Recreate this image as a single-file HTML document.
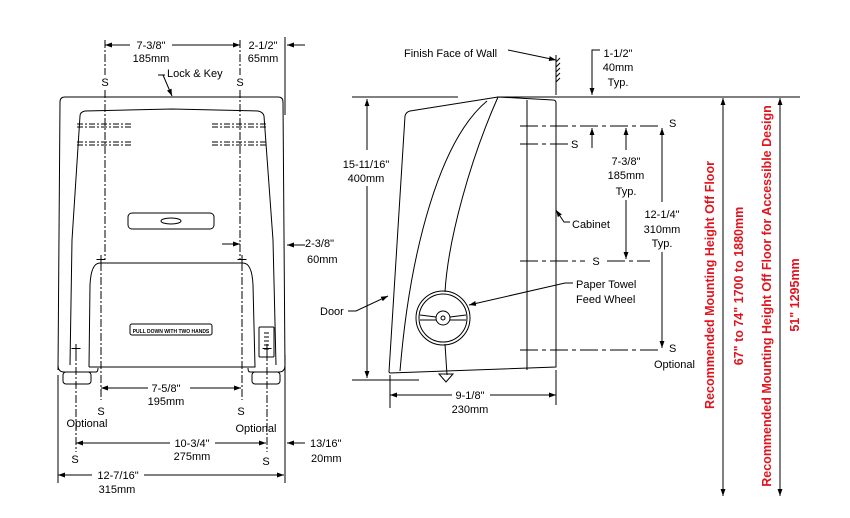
<!DOCTYPE html>
<html><head><meta charset="utf-8"><style>
html,body{margin:0;padding:0;background:#fff;}
svg{display:block;}
text{font-family:"Liberation Sans",Arial,sans-serif;font-size:11px;fill:#000;}
.r{fill:#e0141e;font-weight:bold;font-size:12.5px;}
.m{text-anchor:middle;}
</style></head><body>
<svg width="850" height="518" viewBox="0 0 850 518" xmlns="http://www.w3.org/2000/svg">
<defs>
<marker id="a" viewBox="0 0 10 10" refX="10" refY="5" markerWidth="7" markerHeight="7" orient="auto-start-reverse"><path d="M0,1.5 L10,5 L0,8.5z" fill="#000"/></marker>
</defs>
<g stroke="#000" fill="none" stroke-width="1">
<line x1="105" y1="40" x2="105" y2="75" stroke-dasharray="8,2,2,2"/>
<line x1="240" y1="40" x2="240" y2="75" stroke-dasharray="8,2,2,2"/>
<line x1="105" y1="45" x2="130" y2="45" marker-start="url(#a)"/>
<line x1="172" y1="45" x2="240" y2="45" marker-end="url(#a)"/>
<line x1="285" y1="37" x2="285" y2="115"/>
<line x1="305" y1="45" x2="287" y2="45" marker-end="url(#a)"/>
<line x1="105" y1="90" x2="105" y2="260" stroke-dasharray="8,2,2,2"/>
<line x1="240" y1="90" x2="240" y2="260" stroke-dasharray="8,2,2,2"/>
<path d="M165,75 L158,75 M163,75 L172,96" marker-end="url(#a)"/>
<path d="M58,370 L60,102 Q60,97 65,97 L278,97 Q283,97 283,102 L285,370"/>
<path d="M70,365 L72,240 L80,116 Q80,112 85,111 L172,109 L258,111 Q263,112 264,116 L273,240 L276,365"/>
<g stroke-dasharray="6,2,2,2">
<line x1="77" y1="124" x2="132" y2="124"/><line x1="77" y1="127" x2="132" y2="127"/>
<line x1="77" y1="142" x2="132" y2="142"/><line x1="77" y1="145" x2="132" y2="145"/>
<line x1="212" y1="124" x2="266" y2="124"/><line x1="212" y1="127" x2="266" y2="127"/>
<line x1="212" y1="142" x2="266" y2="142"/><line x1="212" y1="145" x2="266" y2="145"/>
</g>
<rect x="128" y="213" width="86" height="16" rx="4"/>
<ellipse cx="171" cy="221" rx="10" ry="3"/>
<path d="M89,367 L90,285 Q91,263 100,263 L243,263 Q252,263 253,285 L255,367 L89,367"/>
<path d="M101,255 v9 M96.5,259.5 h9 M242,255 v9 M237.5,259.5 h9"/>
<line x1="101" y1="263" x2="101" y2="400" stroke-dasharray="8,2,2,2"/>
<line x1="242" y1="263" x2="242" y2="400" stroke-dasharray="8,2,2,2"/>
<rect x="130" y="324" width="82" height="11" rx="2"/>
<rect x="259" y="327" width="15" height="30" rx="1"/>
<path d="M264,333h5M264,337h5M264,341h5M264,345h5M264,349h5"/>
<path d="M76,344 v9 M71.5,348.5 h9 M267,344 v9 M262.5,348.5 h9"/>
<line x1="76" y1="353" x2="76" y2="452" stroke-dasharray="8,2,2,2"/>
<line x1="267" y1="353" x2="267" y2="452" stroke-dasharray="8,2,2,2"/>
<path d="M58,365 Q58,372 64,372 L96,372 Q98,372 98,368"/>
<rect x="63" y="372" width="28" height="12" rx="3"/>
<path d="M285,365 Q285,372 279,372 L250,372 Q248,372 248,368"/>
<rect x="252" y="372" width="28" height="12" rx="3"/>
<line x1="222" y1="244" x2="240" y2="244" marker-end="url(#a)"/>
<line x1="305" y1="245" x2="287" y2="245" marker-end="url(#a)"/>
<line x1="101" y1="388" x2="148" y2="388" marker-start="url(#a)"/>
<line x1="190" y1="388" x2="241" y2="388" marker-end="url(#a)"/>
<line x1="76" y1="443" x2="170" y2="443" marker-start="url(#a)"/>
<line x1="215" y1="443" x2="266" y2="443" marker-end="url(#a)"/>
<line x1="285" y1="355" x2="285" y2="483"/>
<line x1="58" y1="375" x2="58" y2="483"/>
<line x1="305" y1="443" x2="287" y2="443" marker-end="url(#a)"/>
<line x1="58" y1="475" x2="92" y2="475" marker-start="url(#a)"/>
<line x1="144" y1="475" x2="284" y2="475" marker-end="url(#a)"/>

<line x1="508" y1="50" x2="556" y2="60" marker-end="url(#a)"/>
<line x1="556" y1="55" x2="556" y2="95"/>
<path d="M556,62 l4,-4 M556,67 l4,-4 M556,72 l4,-4 M556,77 l4,-4 M556,82 l4,-4"/>
<path d="M600,50 L592,50 L592,95" marker-end="url(#a)"/>
<line x1="497" y1="97" x2="800" y2="97"/>
<line x1="352" y1="97" x2="458" y2="97"/>
<line x1="352" y1="380" x2="419" y2="380"/>
<line x1="367" y1="99" x2="367" y2="150" marker-start="url(#a)"/>
<line x1="367" y1="186" x2="367" y2="378" marker-end="url(#a)"/>
<path d="M389,372 L405,116 Q406,112 410,111 L498,97 L553,100 Q556,100 556,103 L556,367 L390,373 Z"/>
<path d="M400,371 C410,250 440,140 487,101"/>
<path d="M498,97 C470,160 448,240 445,292"/>
<line x1="445" y1="344" x2="447" y2="375"/>
<line x1="527" y1="100" x2="527" y2="370"/>
<circle cx="443" cy="318" r="27"/>
<circle cx="443" cy="318" r="24"/>
<circle cx="443" cy="318" r="7"/>
<circle cx="443" cy="318" r="2"/>
<path d="M420,315 L436,317 M420,320 L436,320 M466,315 L450,317 M466,320 L450,320"/>
<path d="M439,374 L453,374 L446,382 Z"/>
<line x1="520" y1="126" x2="662" y2="126" stroke-dasharray="18,4,4,4"/>
<line x1="520" y1="144" x2="568" y2="144" stroke-dasharray="18,4,4,4"/>
<line x1="520" y1="261" x2="585" y2="261" stroke-dasharray="18,4,4,4"/>
<line x1="607" y1="261" x2="650" y2="261" stroke-dasharray="18,4,4,4"/>
<line x1="520" y1="350" x2="662" y2="350" stroke-dasharray="18,4,4,4"/>
<line x1="592" y1="148" x2="592" y2="128" marker-end="url(#a)"/>
<line x1="626" y1="128" x2="626" y2="150" marker-start="url(#a)"/>
<line x1="626" y1="200" x2="626" y2="259" marker-end="url(#a)"/>
<line x1="662" y1="128" x2="662" y2="202" marker-start="url(#a)"/>
<line x1="662" y1="252" x2="662" y2="348" marker-end="url(#a)"/>
<path d="M570,222 L564,222 L556,210" marker-end="url(#a)"/>
<path d="M573,283 L565,283 L469,305" marker-end="url(#a)"/>
<path d="M348,311 L356,311 L388,296" marker-end="url(#a)"/>
<line x1="390" y1="375" x2="390" y2="408"/>
<line x1="556" y1="370" x2="556" y2="405"/>
<line x1="390" y1="395" x2="452" y2="395" marker-start="url(#a)"/>
<line x1="490" y1="395" x2="556" y2="395" marker-end="url(#a)"/>
<line x1="723" y1="98" x2="723" y2="496" marker-start="url(#a)" marker-end="url(#a)"/>
<line x1="780" y1="98" x2="780" y2="496" marker-start="url(#a)" marker-end="url(#a)"/>
</g>
<g>
<text class="m" x="151" y="49">7-3/8"</text><text class="m" x="151" y="62">185mm</text>
<text class="m" x="263" y="49">2-1/2"</text><text class="m" x="263" y="62">65mm</text>
<text x="167" y="77">Lock &amp; Key</text>
<text class="m" x="105" y="86">S</text><text class="m" x="240" y="86">S</text>
<text x="305" y="247">2-3/8"</text><text x="307" y="263">60mm</text>
<text class="m" x="171" y="333" style="font-size:5px;font-weight:bold">PULL DOWN WITH TWO HANDS</text>
<text class="m" x="166" y="392">7-5/8"</text><text class="m" x="166" y="405">195mm</text>
<text class="m" x="101" y="415">S</text><text class="m" x="241" y="415">S</text>
<text class="m" x="87" y="427">Optional</text><text class="m" x="256" y="432">Optional</text>
<text class="m" x="192" y="447">10-3/4"</text><text class="m" x="192" y="460">275mm</text>
<text class="m" x="75" y="463">S</text><text class="m" x="266" y="465">S</text>
<text x="310" y="447">13/16"</text><text x="311" y="462">20mm</text>
<text class="m" x="118" y="479">12-7/16"</text><text class="m" x="117" y="493">315mm</text>

<text x="404" y="57">Finish Face of Wall</text>
<text class="m" x="618" y="57">1-1/2"</text><text class="m" x="618" y="71">40mm</text><text class="m" x="618" y="86">Typ.</text>
<text class="m" x="366" y="168">15-11/16"</text><text class="m" x="366" y="182">400mm</text>
<text x="669" y="127">S</text><text x="571" y="148">S</text>
<text class="m" x="626" y="165">7-3/8"</text><text class="m" x="626" y="179">185mm</text><text class="m" x="626" y="195">Typ.</text>
<text x="572" y="228">Cabinet</text>
<text class="m" x="662" y="218">12-1/4"</text><text class="m" x="662" y="233">310mm</text><text class="m" x="662" y="247">Typ.</text>
<text class="m" x="596" y="265">S</text>
<text x="576" y="288">Paper Towel</text><text x="576" y="303">Feed Wheel</text>
<text x="320" y="315">Door</text>
<text x="669" y="352">S</text><text x="654" y="368">Optional</text>
<text class="m" x="470" y="399">9-1/8"</text><text class="m" x="470" y="413">230mm</text>
<text class="r m" transform="translate(714,285) rotate(-90)">Recommended Mounting Height Off Floor</text>
<text class="r m" transform="translate(743,286) rotate(-90)">67" to 74" 1700 to 1880mm</text>
<text class="r m" transform="translate(771,296) rotate(-90)">Recommended Mounting Height Off Floor for Accessible Design</text>
<text class="r m" transform="translate(799,295) rotate(-90)">51" 1295mm</text>
</g>
</svg>
</body></html>
